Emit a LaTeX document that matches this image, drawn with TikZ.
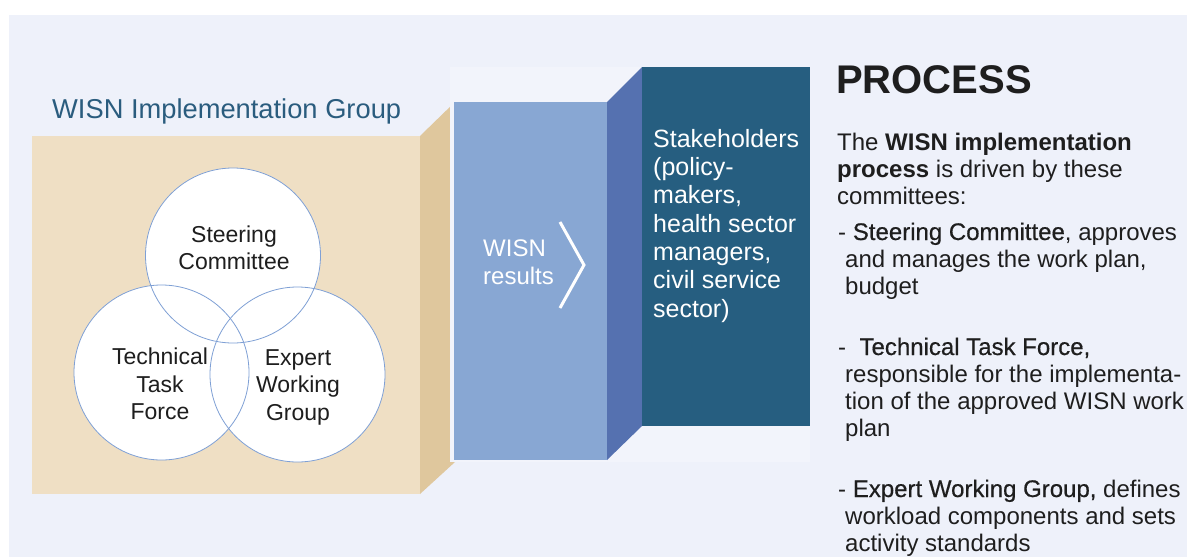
\documentclass[tikz,border=0pt]{standalone}
\usepackage{fontspec}
\setmainfont{Liberation Sans}
\newfontfamily\namefont[FakeBold=0.5]{Liberation Sans}
\usepackage{xcolor}
\definecolor{pagebg}{HTML}{EEF1FA}
\definecolor{panelbg}{HTML}{F2F4FB}
\definecolor{sandfront}{HTML}{EFDFC4}
\definecolor{sandside}{HTML}{DFC79D}
\definecolor{skyfront}{HTML}{88A7D3}
\definecolor{skyside}{HTML}{5571B0}
\definecolor{tealbox}{HTML}{265E80}
\definecolor{ringblue}{HTML}{7FA0D5}
\definecolor{titleblue}{HTML}{2A5C7E}
\definecolor{bodytext}{HTML}{1E1E1E}

\begin{document}
\begin{tikzpicture}[x=1pt,y=-1pt,
  venn/.style={circle, minimum size=175pt, inner sep=0pt, fill=white},
  vennline/.style={draw=ringblue, line width=0.8pt},
  vennlbl/.style={align=center, inner sep=0pt, text=bodytext,
    font=\fontsize{23}{27.5}\selectfont},
  boxlbl/.style={align=left, inner sep=0pt, anchor=base west, text=white},
  desc/.style={align=left, inner sep=0pt, anchor=base west, text=bodytext,
    font=\fontsize{24}{27}\selectfont}]
\useasboundingbox (0,0) rectangle (1187,557);
\fill[white] (0,0) rectangle (1187,557);
\fill[pagebg] (9,15) rectangle (1187,557);

% implementation group block
\fill[sandfront] (32,136) rectangle (420,494);
\fill[sandside] (420,136) -- (455,102) -- (455,462) -- (420,494) -- cycle;
\node[anchor=base west, inner sep=0pt, text=titleblue,
  font=\fontsize{27.3}{30}\selectfont] (grouptitle) at (52,118)
  {WISN Implementation Group};

% the three committees
\node[venn] (steer) at (233,255.5) {};
\node[venn] (tech) at (161.5,372.5) {};
\node[venn] (expert) at (297.5,374.5) {};
\foreach \c in {steer,tech,expert}
  \draw[vennline] (\c.center) circle[radius=87.5];
\node[vennlbl] (steerlbl) at (234,248) {Steering\\Committee};
\node[vennlbl] (techlbl) at (160,384) {Technical\\Task\\Force};
\node[vennlbl] (expertlbl) at (298,387) {Expert\\Working\\Group};

% results block
\fill[panelbg] (450,67) rectangle (810,462);
\fill[skyfront] (454,102) rectangle (607,460);
\fill[skyside] (607,102) -- (642,67) -- (642,426) -- (607,460) -- cycle;
\node[boxlbl, font=\fontsize{24}{28}\selectfont] (results) at (483,284)
  {WISN\\results};
\draw[white, line width=3pt] (560,222) -- (584,265) -- (560,308);

% stakeholders block
\fill[tealbox] (642,67) rectangle (810,426);
\node[boxlbl, font=\fontsize{25}{28.3}\selectfont] (stake) at (653,317)
  {Stakeholders\\(policy-\\makers,\\health sector\\managers,\\civil service\\sector)};

% process description
\node[anchor=base west, inner sep=0pt, text=bodytext,
  font=\fontsize{40}{44}\bfseries\selectfont] (process) at (836,93) {PROCESS};
\node[desc] (intro) at (837,204)
  {The \textbf{WISN implementation}\\\textbf{process} is driven by these\\committees:};
\node[desc] (steerdesc) at (838,294)
  {- {\namefont Steering Committee}, approves\\
   \hspace*{7pt}and manages the work plan,\\
   \hspace*{7pt}budget};
\node[desc] (techdesc) at (838,436)
  {- \ {\namefont Technical Task Force,}\\
   \hspace*{7pt}responsible for the implementa-\\
   \hspace*{7pt}tion of the approved WISN work\\
   \hspace*{7pt}plan};
\node[desc] (expertdesc) at (838,551)
  {- {\namefont Expert Working Group,} defines\\
   \hspace*{7pt}workload components and sets\\
   \hspace*{7pt}activity standards};
\end{tikzpicture}
\end{document}
